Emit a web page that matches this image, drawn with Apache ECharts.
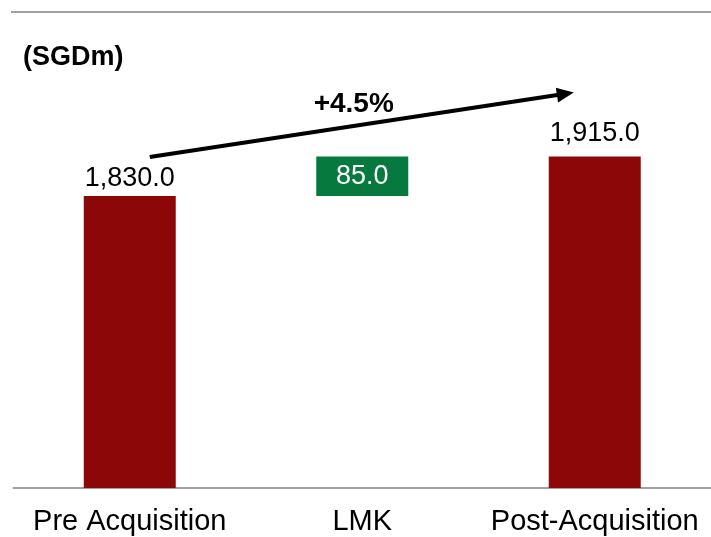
<!DOCTYPE html>
<html>
<head>
<meta charset="utf-8">
<script src="https://cdn.jsdelivr.net/npm/echarts@6/dist/echarts.min.js"></script>
<style>
  html, body { margin: 0; padding: 0; background: #ffffff; }
  #chart { width: 711px; height: 537px; }
</style>
</head>
<body>
<div id="chart"></div>
<script>
// Bridge from pre- to post-acquisition value (SGD millions)
const categories = ['Pre Acquisition', 'LMK', 'Post-Acquisition'];
const stepValues = [1830, 85, 1915];
const unitLabel = '(SGDm)';
const growthLabel = '+4.5%';

// The LMK increment floats on top of the pre-acquisition total
const floatBase = [0, stepValues[0], 0];

const RED = '#8c0808';
const GREEN = '#067a3e';
const FONT = '"Liberation Sans", Arial, sans-serif';

const fmt = v => v.toLocaleString('en-US', { minimumFractionDigits: 1, maximumFractionDigits: 1 });

const barItems = stepValues.map((v, i) => {
  const isStep = i === 1;
  return {
    value: v,
    itemStyle: { color: isStep ? GREEN : RED },
    label: isStep
      ? { position: 'inside', color: '#ffffff' }
      : { position: 'top', color: '#000000', distance: i === 0 ? 4 : 10 }
  };
});

const chart = echarts.init(document.getElementById('chart'));

chart.setOption({
  animation: false,
  backgroundColor: '#ffffff',
  title: {
    text: unitLabel,
    left: 18,
    top: 39,
    textStyle: { fontFamily: FONT, fontSize: 27, fontWeight: 'bold', color: '#000000' }
  },
  grid: { left: 13.5, width: 699, top: 24.5, bottom: 49, containLabel: false },
  xAxis: {
    type: 'category',
    data: categories,
    axisLine: { show: true, lineStyle: { color: '#a0a0a0', width: 2 } },
    axisTick: { show: false },
    axisLabel: { fontFamily: FONT, fontSize: 29, color: '#000000', margin: 19, interval: 0 }
  },
  yAxis: {
    type: 'value',
    min: 1200,
    max: 2200,
    show: false,
    splitLine: { show: false }
  },
  series: [
    {
      name: 'base',
      type: 'bar',
      stack: 'bridge',
      barWidth: 92,
      data: floatBase,
      itemStyle: { color: 'transparent' },
      silent: true
    },
    {
      name: 'value',
      type: 'bar',
      stack: 'bridge',
      barWidth: 92,
      data: barItems,
      label: {
        show: true,
        fontFamily: FONT,
        fontSize: 27,
        formatter: p => fmt(p.value)
      }
    }
  ]
});

// Growth arrow from the pre-acquisition total to the post-acquisition total
function drawOverlay() {
  const p0 = chart.convertToPixel({ gridIndex: 0 }, [categories[0], stepValues[0]]);
  const p2 = chart.convertToPixel({ gridIndex: 0 }, [categories[2], stepValues[2]]);
  const start = [p0[0] + 20, p0[1] - 39];
  const tip = [p2[0] - 21, p2[1] - 64];
  const dx = tip[0] - start[0], dy = tip[1] - start[1];
  const len = Math.sqrt(dx * dx + dy * dy);
  const ux = dx / len, uy = dy / len;
  const headLen = 17, headHalf = 7.5;
  const bx = tip[0] - ux * headLen, by = tip[1] - uy * headLen;
  const mid = [(start[0] + tip[0]) / 2, (start[1] + tip[1]) / 2];

  chart.setOption({
    graphic: [
      {
        type: 'line',
        shape: { x1: 11, y1: 12, x2: 711, y2: 12 },
        style: { stroke: '#a0a0a0', lineWidth: 2 }
      },
      {
        type: 'line',
        shape: { x1: start[0], y1: start[1], x2: bx + ux * 2, y2: by + uy * 2 },
        style: { stroke: '#000000', lineWidth: 4 }
      },
      {
        type: 'polygon',
        shape: {
          points: [
            [tip[0], tip[1]],
            [bx - uy * headHalf, by + ux * headHalf],
            [bx + uy * headHalf, by - ux * headHalf]
          ]
        },
        style: { fill: '#000000' }
      },
      {
        type: 'text',
        x: mid[0] - 8,
        y: mid[1] - 21,
        style: {
          text: growthLabel,
          fontFamily: FONT,
          fontSize: 28,
          fontWeight: 'bold',
          fill: '#000000',
          align: 'center',
          verticalAlign: 'middle'
        }
      }
    ]
  });
}
drawOverlay();
</script>
</body>
</html>
